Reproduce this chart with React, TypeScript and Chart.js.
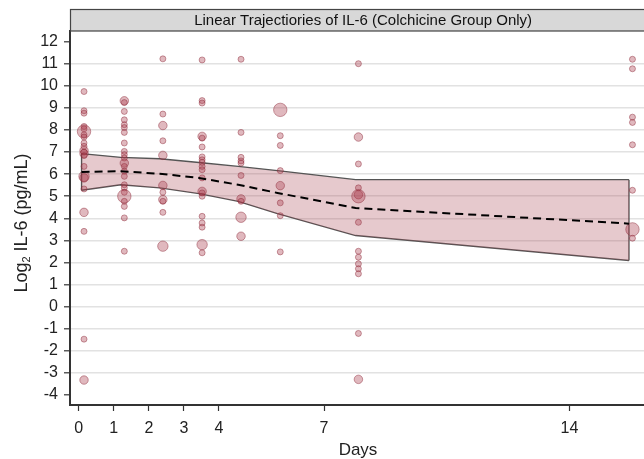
import React, { useEffect, useRef } from "react";
import { Chart, registerables } from "chart.js";

Chart.register(...registerables);

const TITLE = "Linear Trajectiories of IL-6 (Colchicine Group Only)";
const X_TITLE = "Days";
const Y_TITLE_MAIN = "Log";
const Y_TITLE_SUB = "2";
const Y_TITLE_REST = " IL-6 (pg/mL)";

const xTickValues = [0, 1, 2, 3, 4, 7, 14];
const yTickValues = [-4, -3, -2, -1, 0, 1, 2, 3, 4, 5, 6, 7, 8, 9, 10, 11, 12];

// Model trajectory (position of each visit on the x axis as drawn)
const bandX = [0.08, 1.2, 2.31, 3.43, 4.55, 5.67, 7.9, 15.7];
const meanLog = [6.1, 6.13, 6.02, 5.83, 5.52, 5.15, 4.47, 3.76];
const upperLog = [6.93, 6.76, 6.7, 6.53, 6.35, 6.16, 5.75, 5.75];
const lowerLog = [5.27, 5.52, 5.38, 5.12, 4.77, 4.21, 3.22, 2.09];

// Observed values per visit (x position as drawn) and weights (number of overlapping obs.)
const pointX = [0.15, 1.3, 2.4, 3.52, 4.63, 5.75, 7.98, 15.8];
const visit0Values = [9.74, 8.87, 8.76, 8.16, 8.05, 7.93, 7.78, 7.68, 7.41, 7.26, 7.07, 7.0, 6.93, 6.84, 6.35, 5.9, 5.83, 5.33, 4.27, 3.41, -1.47, -3.32];
const visit0Weights = [1, 1, 1, 1, 1, 5, 1, 1, 1, 1, 2, 1, 2, 1, 1, 3, 2, 1, 2, 1, 1, 2];
const visit1Values = [9.32, 9.24, 8.84, 8.46, 8.24, 8.11, 7.89, 7.41, 7.03, 6.88, 6.73, 6.5, 6.35, 6.13, 5.9, 5.52, 5.38, 5.18, 5.0, 4.77, 4.54, 4.02, 2.51];
const visit1Weights = [2, 1, 1, 1, 1, 1, 1, 1, 1, 1, 1, 2, 1, 1, 1, 1, 1, 1, 5, 1, 1, 1, 1];
const visit2Values = [11.22, 8.72, 8.2, 7.51, 6.85, 5.49, 5.18, 4.85, 4.77, 4.27, 2.74];
const visit2Weights = [1, 1, 2, 1, 2, 2, 1, 2, 1, 1, 3];
const visit3Values = [11.17, 9.33, 9.22, 7.71, 7.63, 7.23, 6.78, 6.65, 6.53, 6.35, 6.2, 5.83, 5.22, 5.15, 5.0, 4.09, 3.79, 3.6, 2.81, 2.44];
const visit3Weights = [1, 1, 1, 2, 1, 1, 1, 1, 1, 1, 1, 1, 2, 1, 1, 1, 1, 1, 3, 1];
const visit4Values = [11.2, 7.89, 6.76, 6.6, 6.5, 5.94, 4.88, 4.77, 4.05, 3.19];
const visit4Weights = [1, 1, 1, 1, 1, 1, 2, 1, 3, 2];
const visit5Values = [8.91, 7.74, 7.3, 6.16, 5.48, 4.7, 4.12, 2.48];
const visit5Weights = [5, 1, 1, 1, 2, 1, 1, 1];
const visit7Values = [11.0, 7.68, 6.46, 5.38, 5.07, 5.0, 3.82, 2.51, 2.24, 1.94, 1.72, 1.49, -1.21, -3.29];
const visit7Weights = [1, 2, 1, 1, 2, 5, 1, 1, 1, 1, 1, 1, 1, 2];
const visit14Values = [11.2, 10.77, 8.58, 8.34, 7.33, 5.27, 3.5, 3.1];
const visit14Weights = [1, 1, 1, 1, 1, 1, 5, 1];

const visitValues = [visit0Values, visit1Values, visit2Values, visit3Values, visit4Values, visit5Values, visit7Values, visit14Values];
const visitWeights = [visit0Weights, visit1Weights, visit2Weights, visit3Weights, visit4Weights, visit5Weights, visit7Weights, visit14Weights];

const FONT = '"Liberation Sans", Arial, sans-serif';

export default function App() {
  const canvasRef = useRef<HTMLCanvasElement | null>(null);

  useEffect(() => {
    const canvas = canvasRef.current;
    if (!canvas) return;

    const pts: { x: number; y: number; w: number }[] = [];
    visitValues.forEach((vals, i) => {
      vals.forEach((v, j) => pts.push({ x: pointX[i], y: v, w: visitWeights[i][j] }));
    });

    const decorPlugin = {
      id: "decor",
      afterDraw(chart: any) {
        const ctx = chart.ctx as CanvasRenderingContext2D;
        const ca = chart.chartArea;
        ctx.save();
        // title box
        ctx.fillStyle = "#d8d8d8";
        ctx.fillRect(ca.left, 9, ca.right - ca.left, ca.top - 9);
        ctx.strokeStyle = "#444";
        ctx.lineWidth = 1.2;
        ctx.strokeRect(ca.left + 0.5, 9.5, ca.right - ca.left, ca.top - 9.5);
        ctx.fillStyle = "#111";
        ctx.font = `15px ${FONT}`;
        ctx.textAlign = "center";
        ctx.textBaseline = "middle";
        ctx.fillText(TITLE, (ca.left + ca.right) / 2, 20.5);
        // x title
        ctx.font = `17px ${FONT}`;
        ctx.fillStyle = "#222";
        ctx.fillText(X_TITLE, 358, 450);
        // y title with subscript
        ctx.translate(22, 223);
        ctx.rotate(-Math.PI / 2);
        const fMain = `18px ${FONT}`;
        const fSub = `11px ${FONT}`;
        ctx.textAlign = "left";
        ctx.font = fMain;
        const w1 = ctx.measureText(Y_TITLE_MAIN).width;
        const w3 = ctx.measureText(Y_TITLE_REST).width;
        ctx.font = fSub;
        const w2 = ctx.measureText(Y_TITLE_SUB).width;
        let x0 = -(w1 + w2 + w3) / 2;
        ctx.font = fMain;
        ctx.fillText(Y_TITLE_MAIN, x0, 0);
        x0 += w1;
        ctx.font = fSub;
        ctx.fillText(Y_TITLE_SUB, x0, 5);
        x0 += w2;
        ctx.font = fMain;
        ctx.fillText(Y_TITLE_REST, x0, 0);
        ctx.restore();
      },
    };

    const chart = new Chart(canvas, {
      type: "scatter",
      data: {
        datasets: [
          {
            type: "line",
            label: "Mean",
            data: bandX.map((x, i) => ({ x, y: meanLog[i] })),
            borderColor: "#000",
            borderWidth: 2,
            borderDash: [8, 5],
            pointRadius: 0,
            fill: false,
            order: 0,
          } as any,
          {
            label: "Observed",
            data: pts.map((p) => ({ x: p.x, y: p.y })),
            pointRadius: pts.map((p) => 3 * Math.sqrt(p.w)),
            pointBackgroundColor: "rgba(168,58,74,0.36)",
            pointBorderColor: "rgba(140,40,56,0.45)",
            pointBorderWidth: 1,
            order: 1,
          } as any,
          {
            type: "line",
            label: "Upper",
            data: bandX.map((x, i) => ({ x, y: upperLog[i] })),
            borderColor: "#555",
            borderWidth: 1.4,
            pointRadius: 0,
            backgroundColor: "rgba(165,60,75,0.28)",
            fill: "+1",
            order: 2,
          } as any,
          {
            type: "line",
            label: "Lower",
            data: bandX.map((x, i) => ({ x, y: lowerLog[i] })),
            borderColor: "#555",
            borderWidth: 1.4,
            pointRadius: 0,
            fill: false,
            order: 3,
          } as any,
          {
            type: "line",
            label: "Edges",
            data: [
              { x: bandX[0], y: lowerLog[0] },
              { x: bandX[0], y: upperLog[0] },
              { x: bandX[0], y: null },
              { x: bandX[bandX.length - 1], y: lowerLog[lowerLog.length - 1] },
              { x: bandX[bandX.length - 1], y: upperLog[upperLog.length - 1] },
            ],
            borderColor: "#555",
            borderWidth: 1.4,
            pointRadius: 0,
            fill: false,
            spanGaps: false,
            order: 4,
          } as any,
        ],
      },
      options: {
        responsive: false,
        animation: false,
        devicePixelRatio: 1,
        layout: { padding: { top: 31, left: 0, right: 0, bottom: 0 } },
        plugins: {
          legend: { display: false },
          tooltip: { enabled: false },
          title: { display: false },
        },
        scales: {
          x: {
            type: "linear",
            min: -0.25,
            max: 16.48,
            afterFit: (s: any) => {
              s.height = 54;
            },
            afterBuildTicks: (s: any) => {
              s.ticks = xTickValues.map((v) => ({ value: v }));
            },
            grid: {
              drawOnChartArea: false,
              drawTicks: true,
              tickLength: 6,
              tickColor: "#333",
              tickWidth: 1.2,
            },
            border: { display: true, color: "#333", width: 2 },
            ticks: {
              color: "#222",
              font: { family: FONT, size: 16 },
              padding: 8,
              autoSkip: false,
              maxRotation: 0,
            },
          },
          y: {
            type: "linear",
            min: -4.45,
            max: 12.48,
            afterFit: (s: any) => {
              s.width = 70;
            },
            afterBuildTicks: (s: any) => {
              s.ticks = yTickValues.map((v) => ({ value: v }));
            },
            grid: {
              color: (c: any) =>
                c.tick && (c.tick.value === 12 || c.tick.value === -4) ? "rgba(0,0,0,0)" : "#e2e2e2",
              lineWidth: 1.6,
              drawTicks: true,
              tickLength: 6,
              tickColor: "#333",
              tickWidth: 1.2,
            },
            border: { display: true, color: "#333", width: 2 },
            ticks: {
              color: "#222",
              font: { family: FONT, size: 16 },
              padding: 6,
              autoSkip: false,
            },
          },
        },
      },
      plugins: [decorPlugin],
    } as any);

    return () => chart.destroy();
  }, []);

  return (
    <div
      style={{
        position: "fixed",
        left: 0,
        top: 0,
        width: 644,
        height: 459,
        overflow: "hidden",
        background: "#fff",
      }}
    >
      <canvas ref={canvasRef} width={664} height={459} style={{ width: 664, height: 459, display: "block" }} />
    </div>
  );
}
